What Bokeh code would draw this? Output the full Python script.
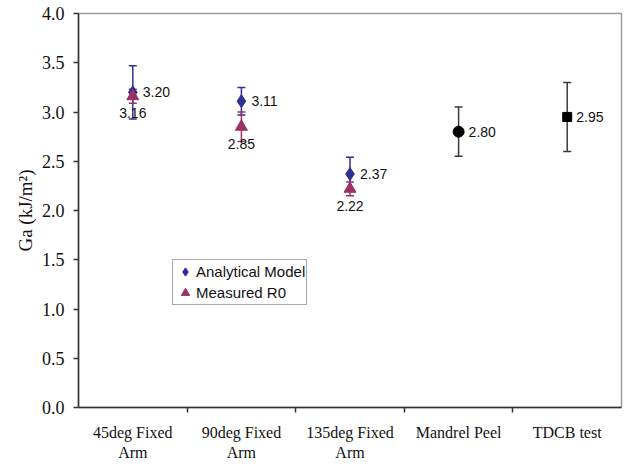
from bokeh.plotting import figure
from bokeh.models import (ColumnDataSource, Whisker, TeeHead, FixedTicker, Range1d,
                          Legend, LegendItem, NumeralTickFormatter)
from bokeh.core.properties import value
from bokeh.embed import file_html
from bokeh.resources import INLINE

# Test methods along the x axis
categories = ["45deg Fixed\nArm", "90deg Fixed\nArm", "135deg Fixed\nArm", "Mandrel Peel", "TDCB test"]

# Fixed-arm peel: analytical model vs measured R0 (kJ/m^2)
analytical = [3.20, 3.11, 2.37]
analytical_err = [0.27, 0.14, 0.17]
measured = [3.16, 2.85, 2.22]
measured_err = [0.07, 0.15, 0.07]

# Other tests
mandrel = [2.80]
mandrel_err = [0.25]
tdcb = [2.95]
tdcb_err = [0.35]

y_ticks = [0.0, 0.5, 1.0, 1.5, 2.0, 2.5, 3.0, 3.5, 4.0]

BLUE = "#2e3192"
PLUM = "#993366"
DARK = "#3a3a3a"
SERIF = "Liberation Serif"
SANS = "Liberation Sans"

centers = [i + 0.5 for i in range(len(categories))]


def make_source(xs, ys, errs):
    return ColumnDataSource(dict(
        x=xs, y=ys,
        upper=[v + e for v, e in zip(ys, errs)],
        lower=[v - e for v, e in zip(ys, errs)],
        label=["%.2f" % v for v in ys],
    ))


src_a = make_source(centers[:3], analytical, analytical_err)
src_m = make_source(centers[:3], measured, measured_err)
src_md = make_source([centers[3]], mandrel, mandrel_err)
src_t = make_source([centers[4]], tdcb, tdcb_err)

p = figure(width=624, height=464, output_backend="svg", toolbar_location=None,
           x_range=Range1d(0, len(categories)), y_range=Range1d(0, 4.0),
           min_border_left=78, min_border_right=3, min_border_top=13, min_border_bottom=57)
p.background_fill_color = "white"
p.border_fill_color = "white"
p.outline_line_color = "#9a9a9a"
p.outline_line_width = 1.5
p.xgrid.visible = False
p.ygrid.visible = False


def add_whisker(src, color):
    w = Whisker(source=src, base="x", upper="upper", lower="lower", dimension="height",
                line_color=color, line_width=1.5,
                upper_head=TeeHead(size=8, line_color=color, line_width=1.5),
                lower_head=TeeHead(size=8, line_color=color, line_width=1.5))
    p.add_layout(w)


add_whisker(src_a, BLUE)
add_whisker(src_m, PLUM)
add_whisker(src_md, DARK)
add_whisker(src_t, DARK)

r_a = p.scatter("x", "y", source=src_a, marker="diamond", size=13,
                fill_color=BLUE, line_color=BLUE)
r_m = p.scatter("x", "y", source=src_m, marker="triangle", size=12,
                fill_color=PLUM, line_color=PLUM)
p.scatter("x", "y", source=src_md, marker="circle", size=11,
          fill_color="black", line_color="black")
p.scatter("x", "y", source=src_t, marker="square", size=9,
          fill_color="black", line_color="black")

# Value labels
lbl = dict(text="label", text_font=value(SANS), text_font_size="14px", text_color="#111111")
p.text("x", "y", source=src_a, x_offset=10, text_align="left", text_baseline="middle", **lbl)
p.text("x", "y", source=src_m, y_offset=17, text_align="center", text_baseline="middle", **lbl)
p.text("x", "y", source=src_md, x_offset=10, text_align="left", text_baseline="middle", **lbl)
p.text("x", "y", source=src_t, x_offset=9, text_align="left", text_baseline="middle", **lbl)

# Axes
xa = p.xaxis[0]
xa.ticker = FixedTicker(ticks=centers, minor_ticks=[1, 2, 3, 4])
xa.major_label_overrides = {c: lab for c, lab in zip(centers, categories)}
xa.major_tick_out = 0
xa.major_tick_in = 0
xa.minor_tick_out = 5
xa.minor_tick_in = 0
xa.minor_tick_line_color = "#333333"
xa.minor_tick_line_width = 1.5
xa.axis_line_color = "#333333"
xa.axis_line_width = 1.5
xa.major_label_text_font = SERIF
xa.major_label_text_font_size = "16px"
xa.major_label_text_color = "#111111"
xa.major_label_standoff = 11

ya = p.yaxis[0]
ya.ticker = FixedTicker(ticks=y_ticks)
ya.formatter = NumeralTickFormatter(format="0.0")
ya.major_tick_out = 5
ya.major_tick_in = 0
ya.minor_tick_line_color = None
ya.major_tick_line_color = "#333333"
ya.major_tick_line_width = 1.5
ya.axis_line_color = "#333333"
ya.axis_line_width = 1.5
ya.major_label_text_font = SERIF
ya.major_label_text_font_size = "18px"
ya.major_label_text_color = "#111111"
ya.major_label_standoff = 9
ya.axis_label = "Ga (kJ/m²)"
ya.axis_label_text_font = SERIF
ya.axis_label_text_font_size = "19px"
ya.axis_label_text_font_style = "normal"
ya.axis_label_text_color = "#111111"
ya.axis_label_standoff = 3

legend = Legend(items=[LegendItem(label="Analytical Model", renderers=[r_a]),
                       LegendItem(label="Measured R0", renderers=[r_m])],
                location=(94, 102), orientation="vertical",
                border_line_color="#a8a8a8", border_line_width=1.5, border_line_alpha=1.0,
                background_fill_color="white", background_fill_alpha=1.0,
                label_text_font=SANS, label_text_font_size="15px", label_text_color="#111111",
                glyph_width=22, glyph_height=21, label_standoff=-2,
                padding=1, spacing=0, margin=0, label_height=20)
p.add_layout(legend)

open("out.html", "w").write(file_html(p, INLINE))
